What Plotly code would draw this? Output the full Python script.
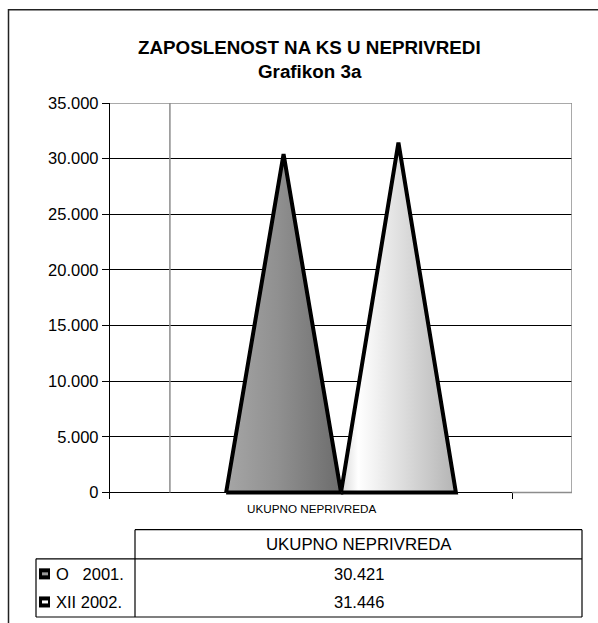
import plotly.graph_objects as go

# ---- data ----
title_main = "ZAPOSLENOST NA KS U NEPRIVREDI"
title_sub = "Grafikon 3a"
categories = ["UKUPNO NEPRIVREDA"]
series_names = ["O   2001.", "XII 2002."]
values_2001 = [30421]
values_2002 = [31446]
y_ticks = [0, 5000, 10000, 15000, 20000, 25000, 30000, 35000]
series_values = [values_2001, values_2002]

# ---- styling / layout constants ----
W, H = 598, 623
FONT = "Arial, Liberation Sans, sans-serif"
gap_width = 1.5            # Excel style gap (150%)
depth = 0.149              # 3D depth offset in category units
cone_scales = [
    [[0, "#a6a6a6"], [0.45, "#909090"], [1, "#6c6c6c"]],
    [[0, "#d8d8d8"], [0.15, "#ffffff"], [1, "#b4b4b4"]],
]
legend_inner = ["#9a9a9a", "#ffffff"]

# vertical render calibration (observed screenshot mapping)
Y0, SY = 9.3, 0.977

def px(x):
    return x / W

def py(y):
    return 1 - ((y - Y0) / SY) / H

n_series = len(series_values)
w = 1.0 / (n_series + gap_width)
x_end = 0.5 + depth

fig = go.Figure()

# cones (triangles) built from the data values
for ci, cat in enumerate(categories):
    center = ci + depth / 2
    for si, vals in enumerate(series_values):
        xc = center + (si - (n_series - 1) / 2) * w
        v = vals[ci]
        fig.add_trace(go.Scatter(
            x=[xc - w / 2, xc, xc + w / 2, xc - w / 2],
            y=[0, v, 0, 0],
            mode="lines",
            fill="toself",
            fillgradient=dict(type="horizontal", colorscale=cone_scales[si]),
            line=dict(color="black", width=4),
            hoverinfo="skip",
            showlegend=False,
        ))

y_top = y_ticks[-1]
y_min = -6 * y_top / 388

fig.update_layout(
    width=W, height=H, autosize=False,
    margin=dict(l=0, r=0, t=0, b=0),
    paper_bgcolor="white", plot_bgcolor="white",
    separators=",.",
    hovermode=False,
    font=dict(family=FONT, color="black"),
    xaxis=dict(
        domain=[px(110), px(572)],
        range=[-0.5, x_end],
        tickvals=[-0.5, 0.5],
        ticks="inside", ticklen=6, tickcolor="black", tickwidth=1,
        showticklabels=False, showgrid=False, zeroline=False, showline=False,
    ),
    yaxis=dict(
        domain=[py(497), py(103)],
        range=[y_min, y_top],
        tickvals=y_ticks,
        tickformat=",d",
        ticks="outside", ticklen=7, tickcolor="black", tickwidth=1.3,
        tickfont=dict(size=16.5, family=FONT, color="black"),
        showline=True, linecolor="black", linewidth=1.3,
        showgrid=True, gridcolor="black", gridwidth=1.3,
        zeroline=False,
    ),
)

shapes = []
grey = "#8c8c8c"
# plot-area back wall borders
shapes.append(dict(type="line", xref="x", yref="y", x0=-0.5, x1=x_end, y0=y_top, y1=y_top,
                   line=dict(color=grey, width=1.5)))
shapes.append(dict(type="line", xref="x", yref="y", x0=x_end, x1=x_end, y0=0, y1=y_top,
                   line=dict(color=grey, width=1.5)))
shapes.append(dict(type="line", xref="x", yref="y", x0=-0.5 + depth, x1=-0.5 + depth, y0=0, y1=y_top,
                   line=dict(color=grey, width=1.5)))
shapes.append(dict(type="line", xref="x", yref="y", x0=0.5, x1=x_end, y0=0, y1=0,
                   line=dict(color=grey, width=1.5)))

# outer frame
shapes.append(dict(type="rect", xref="paper", yref="paper", x0=px(8.5), x1=px(620), y0=-0.05, y1=py(10),
                   line=dict(color="#222222", width=1.5), fillcolor="rgba(0,0,0,0)", layer="below"))

# data table lines
tl, tc, tr = 36, 135, 582
t_top, t_mid, t_bot = 528, 557, 615
tline = dict(color="black", width=1.2)
for (x0, y0, x1, y1) in [
    (tc, t_top, tr, t_top),
    (tl, t_mid, tr, t_mid),
    (tl, t_bot, tr, t_bot),
    (tl, t_mid, tl, t_bot),
    (tc, t_top, tc, t_bot),
    (tr, t_top, tr, t_bot),
]:
    shapes.append(dict(type="line", xref="paper", yref="paper",
                       x0=px(x0), x1=px(x1), y0=py(y0), y1=py(y1), line=tline))

row_y = [572, 600]
# legend keys
for si in range(n_series):
    cy = row_y[si]
    shapes.append(dict(type="rect", xref="paper", yref="paper",
                       x0=px(39), x1=px(50), y0=py(cy + 5.5), y1=py(cy - 5.5),
                       fillcolor="black", line=dict(width=0)))
    shapes.append(dict(type="rect", xref="paper", yref="paper",
                       x0=px(42), x1=px(48), y0=py(cy + 1.5), y1=py(cy - 1.5),
                       fillcolor=legend_inner[si], line=dict(width=0)))

fig.update_layout(shapes=shapes)

def fmt(v):
    return f"{v:,}".replace(",", ".")

ann = []
ann.append(dict(text=f"<b>{title_main}</b>", x=px(309.5), y=py(47.5), xref="paper", yref="paper",
                showarrow=False, xanchor="center", yanchor="middle", font=dict(size=18.8, family=FONT)))
ann.append(dict(text=f"<b>{title_sub}</b>", x=px(309.5), y=py(72), xref="paper", yref="paper",
                showarrow=False, xanchor="center", yanchor="middle", font=dict(size=18.8, family=FONT)))
for ci, cat in enumerate(categories):
    ann.append(dict(text=cat, x=ci, y=py(507), xref="x", yref="paper", showarrow=False,
                    xanchor="center", yanchor="middle", font=dict(size=11.7, family=FONT)))
    ann.append(dict(text=cat, x=px((tc + tr) / 2), y=py(542.5), xref="paper", yref="paper",
                    showarrow=False, xanchor="center", yanchor="middle", font=dict(size=16.8, family=FONT)))
    for si, vals in enumerate(series_values):
        ann.append(dict(text=fmt(vals[ci]), x=px((tc + tr) / 2), y=py(row_y[si]), xref="paper", yref="paper",
                        showarrow=False, xanchor="center", yanchor="middle", font=dict(size=16.5, family=FONT)))
for si, name in enumerate(series_names):
    ann.append(dict(text=name.replace(" ", "\u00a0"), x=px(54), y=py(row_y[si]), xref="paper", yref="paper",
                    showarrow=False, xanchor="left", yanchor="middle", font=dict(size=16.5, family=FONT)))
fig.update_layout(annotations=ann)

fig.write_html(
    "out.html",
    config={"displayModeBar": False},
    post_script="document.body.style.margin='0';document.body.style.overflow='hidden';",
)
